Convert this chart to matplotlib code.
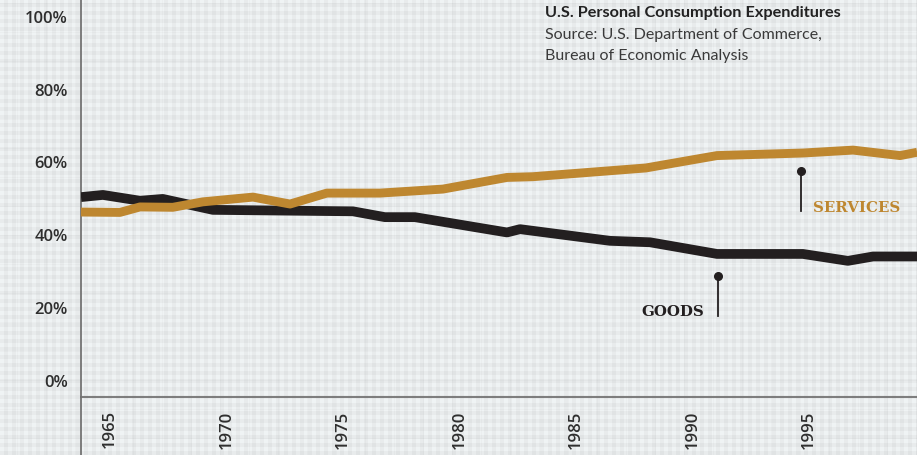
import numpy as np
import matplotlib
matplotlib.use("Agg")
import matplotlib.pyplot as plt

# values (share of personal consumption, %)
services_years = [1963.76, 1965.43, 1966.29, 1967.70, 1968.99, 1971.14, 1972.73, 1974.31,
                  1976.59, 1979.29, 1982.04, 1983.15, 1988.0, 1991.05, 1994.74, 1996.89,
                  1998.91, 1999.64]
services_share = [46.1, 46.0, 47.5, 47.4, 48.9, 50.2, 48.3, 51.3,
                  51.3, 52.4, 55.6, 55.8, 58.2, 61.6, 62.3, 63.1,
                  61.6, 62.5]

goods_years = [1963.76, 1964.70, 1966.29, 1967.27, 1969.42, 1975.43, 1976.80, 1978.09,
               1982.04, 1982.60, 1986.46, 1988.18, 1991.05, 1994.74, 1996.67, 1997.75,
               1999.64]
goods_share = [50.2, 50.8, 49.2, 49.7, 46.7, 46.3, 44.7, 44.7,
               40.5, 41.4, 38.2, 37.8, 34.6, 34.6, 32.7, 33.9,
               33.9]

y_ticks = [0, 20, 40, 60, 80, 100]
y_labels = ["0%", "20%", "40%", "60%", "80%", "100%"]
x_ticks = [1965, 1970, 1975, 1980, 1985, 1990, 1995]
x_labels = ["1965", "1970", "1975", "1980", "1985", "1990", "1995"]

GOLD = "#be8730"
INK = "#231f20"
AXIS = "#737373"

W, H = 917, 456
fig = plt.figure(figsize=(W / 100, H / 100), dpi=100)

# gingham-style paper background with a faint grid
xs = np.arange(W)[None, :]
ys = np.arange(H)[:, None]
shade = 0.955 - 0.03 * ((xs // 4) % 2) - 0.03 * ((ys // 4) % 2)
shade = shade - 0.018 * ((xs % 29) == 17) - 0.018 * ((ys % 29) == 4)
bg = np.dstack([shade - 0.014, shade - 0.002, shade + 0.002])
bg = np.clip(bg, 0, 1)
fig.figimage(bg, 0, 0, zorder=-10)

ax = fig.add_axes([81 / W, (H - 398) / H, 1 - 81 / W, 398 / H])
ax.set_zorder(1)
ax.patch.set_alpha(0)
ax.set_xlim(goods_years[0], 1999.635)
ax.set_ylim(-4.67, 104.58)

ax.plot(goods_years, goods_share, color=INK, lw=7.0, solid_capstyle="butt",
        solid_joinstyle="round", zorder=3)
ax.plot(services_years, services_share, color=GOLD, lw=6.4, solid_capstyle="butt",
        solid_joinstyle="round", zorder=4)

for side in ["top", "right"]:
    ax.spines[side].set_visible(False)
for side in ["left", "bottom"]:
    ax.spines[side].set_color(AXIS)
    ax.spines[side].set_linewidth(1.3)
# y axis line runs on down to the bottom edge
ax.axvline(goods_years[0], ymin=-58 / 398, ymax=0, color=AXIS, lw=1.3, clip_on=False)

tick_font = dict(family="Open Sans", weight="semibold", size=12, color="#2e2e2e")
ax.set_yticks(y_ticks)
ax.set_yticklabels(y_labels, **tick_font)
ax.set_xticks(x_ticks)
ax.set_xticklabels(x_labels, rotation=90, **tick_font)
ax.tick_params(axis="y", length=0, pad=9.5)
ax.tick_params(axis="x", length=0, pad=9)

# callouts
ax.plot([1994.66, 1994.66], [46.4, 57.4], color=INK, lw=1.3, zorder=5)
ax.plot([1994.66], [57.4], "o", color=INK, ms=5.5, zorder=5)
ax.text(1995.17, 47.6, "SERVICES", color=GOLD, family="DejaVu Serif", weight="bold",
        size=10.8, ha="left", va="center")
ax.plot([1991.1, 1991.1], [17.6, 28.5], color=INK, lw=1.3, zorder=5)
ax.plot([1991.1], [28.5], "o", color=INK, ms=5.5, zorder=5)
ax.text(1990.49, 18.9, "GOODS", color=INK, family="DejaVu Serif", weight="bold",
        size=10.8, ha="right", va="center")

fig.text(545 / W, 1 - 13 / H, "U.S. Personal Consumption Expenditures", family="Lato",
         weight="bold", size=11.7, color="#222222", ha="left", va="center")
fig.text(545 / W, 1 - 35.5 / H, "Source: U.S. Department of Commerce,", family="Lato",
         size=11.5, color="#3a3a3a", ha="left", va="center")
fig.text(545 / W, 1 - 56 / H, "Bureau of Economic Analysis", family="Lato",
         size=11.5, color="#3a3a3a", ha="left", va="center")

fig.savefig("out.png", dpi=100)
